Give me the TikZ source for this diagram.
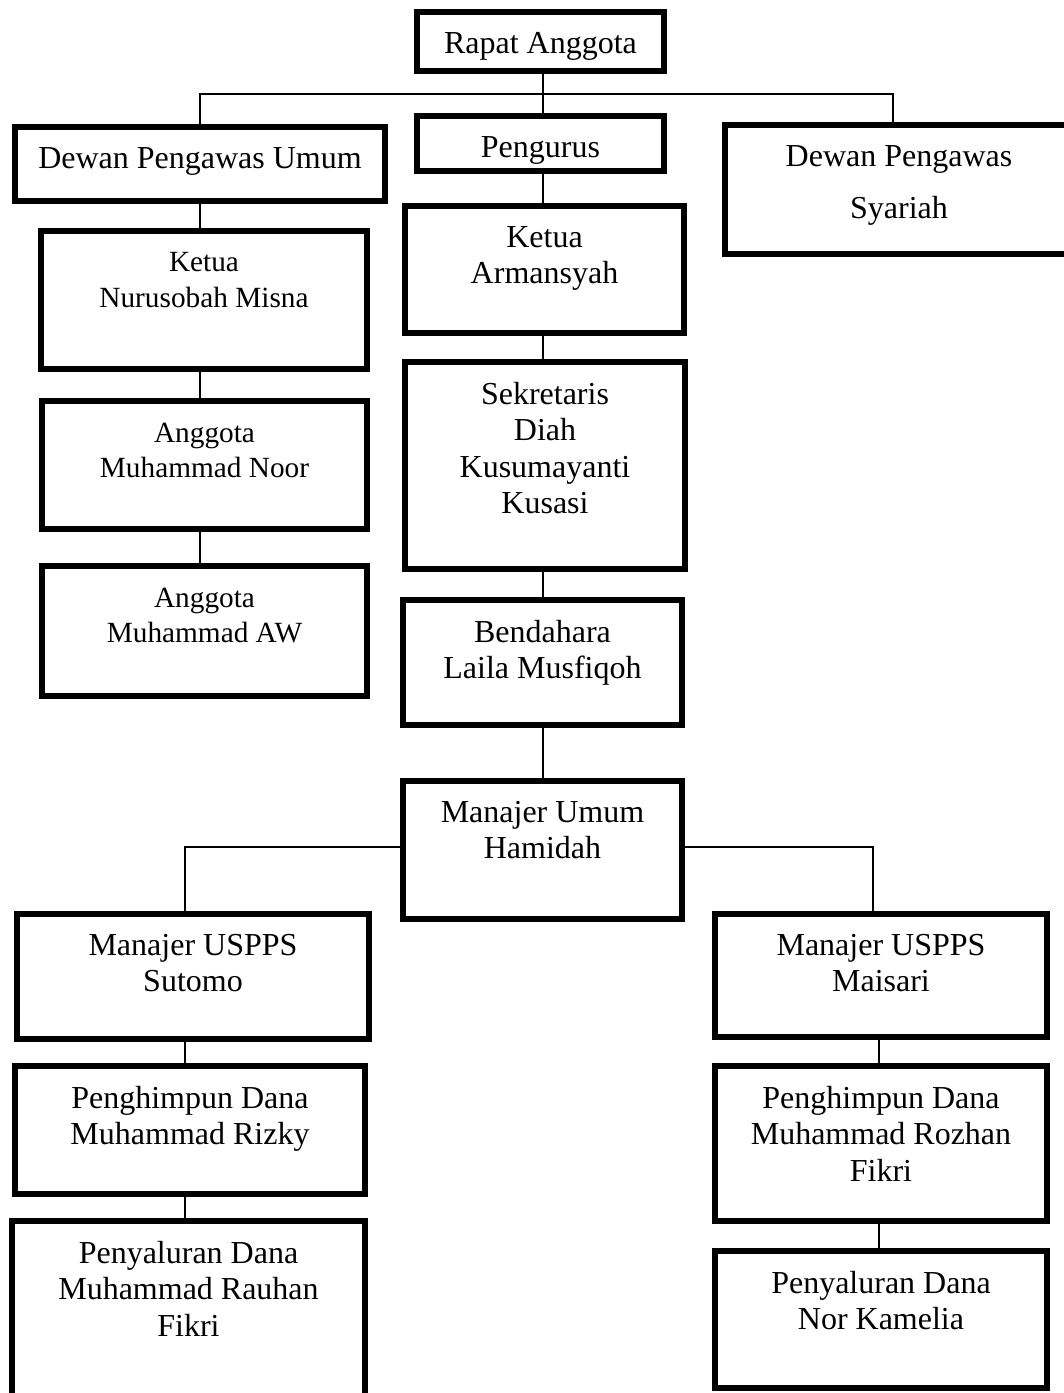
\documentclass[tikz,border=0pt]{standalone}
\usepackage{fontspec}
\setmainfont{Liberation Serif}
\newcommand\orgbox[7][]{%
  \node[boxst, minimum width={#4-#3-6}, minimum height={#6-#5-6}] (#2) at ({(#3+#4)/2},{(#5+#6)/2}) {};
  \node[lbl,#1] (#2-t) at ({(#3+#4)/2},{#5+23}) {#7};
}
\begin{document}
\begin{tikzpicture}[x=1pt,y=-1pt,
  boxst/.style={draw=black, line width=6pt, rectangle, inner sep=0pt, fill=white},
  lbl/.style={anchor=north, inner sep=0pt, align=center, font=\fontsize{32}{36.5}\selectfont},
  smalllbl/.style={font=\fontsize{29.3}{35.6}\selectfont, yshift=-1.5pt},
  conn/.style={draw=black, line width=1.4pt}]
\useasboundingbox (0,0) rectangle (1064,1393);
\clip (0,0) rectangle (1064,1393);
\fill[white] (0,0) rectangle (1064,1393);

\orgbox{rapat}{414}{667}{9}{74}{Rapat Anggota}
\orgbox{dpu}{12}{388}{124}{204}{Dewan Pengawas Umum}
\orgbox{pengurus}{414}{667}{113}{174}{Pengurus}
\orgbox{syariah}{722}{1076}{122}{257}{Dewan Pengawas\\[16pt]Syariah}
\orgbox[smalllbl]{ketuaN}{38}{370}{228}{372}{Ketua\\Nurusobah Misna}
\orgbox[smalllbl]{noor}{39}{370}{398}{532}{Anggota\\Muhammad Noor}
\orgbox[smalllbl]{aw}{39}{370}{563}{699}{Anggota\\Muhammad AW}
\orgbox{ketuaA}{402}{687}{203}{336}{Ketua\\Armansyah}
\orgbox{sekretaris}{402}{688}{359}{572}{Sekretaris\\Diah\\Kusumayanti\\Kusasi}
\orgbox{bendahara}{400}{685}{597}{728}{Bendahara\\Laila Musfiqoh}
\orgbox{mu}{400}{685}{778}{922}{Manajer Umum\\Hamidah}
\orgbox{sutomo}{14}{372}{911}{1042}{Manajer USPPS\\Sutomo}
\orgbox{maisari}{712}{1050}{911}{1040}{Manajer USPPS\\Maisari}
\orgbox{rizky}{12}{368}{1063}{1197}{Penghimpun Dana\\Muhammad Rizky}
\orgbox{rozhan}{712}{1050}{1063}{1224}{Penghimpun Dana\\Muhammad Rozhan\\Fikri}
\orgbox{rauhan}{9}{368}{1218}{1410}{Penyaluran Dana\\Muhammad Rauhan\\Fikri}
\orgbox{kamelia}{712}{1050}{1248}{1391}{Penyaluran Dana\\Nor Kamelia}

\coordinate (hy) at (0,94);
\coordinate (colA) at (200,0);
\coordinate (colS) at (893,0);
\coordinate (colC) at (543,0);
\coordinate (my) at (0,847);
\coordinate (colL) at (185,0);
\coordinate (colR) at (873,0);
\coordinate (colR2) at (879,0);

% top level
\draw[conn] (rapat.south -| colC) -- (pengurus.north -| colC);
\draw[conn] (dpu.north -| colA) -- (hy -| colA) -- (hy -| colS) -- (syariah.north -| colS);
% left column
\draw[conn] (dpu.south -| colA) -- (ketuaN.north -| colA);
\draw[conn] (ketuaN.south -| colA) -- (noor.north -| colA);
\draw[conn] (noor.south -| colA) -- (aw.north -| colA);
% centre column
\draw[conn] (pengurus.south -| colC) -- (ketuaA.north -| colC);
\draw[conn] (ketuaA.south -| colC) -- (sekretaris.north -| colC);
\draw[conn] (sekretaris.south -| colC) -- (bendahara.north -| colC);
\draw[conn] (bendahara.south -| colC) -- (mu.north -| colC);
% manajer umum branches
\draw[conn] (mu.west |- my) -- (my -| colL) -- (sutomo.north -| colL);
\draw[conn] (mu.east |- my) -- (my -| colR) -- (maisari.north -| colR);
\draw[conn] (sutomo.south -| colL) -- (rizky.north -| colL);
\draw[conn] (rizky.south -| colL) -- (rauhan.north -| colL);
\draw[conn] (maisari.south -| colR2) -- (rozhan.north -| colR2);
\draw[conn] (rozhan.south -| colR2) -- (kamelia.north -| colR2);
\end{tikzpicture}
\end{document}
